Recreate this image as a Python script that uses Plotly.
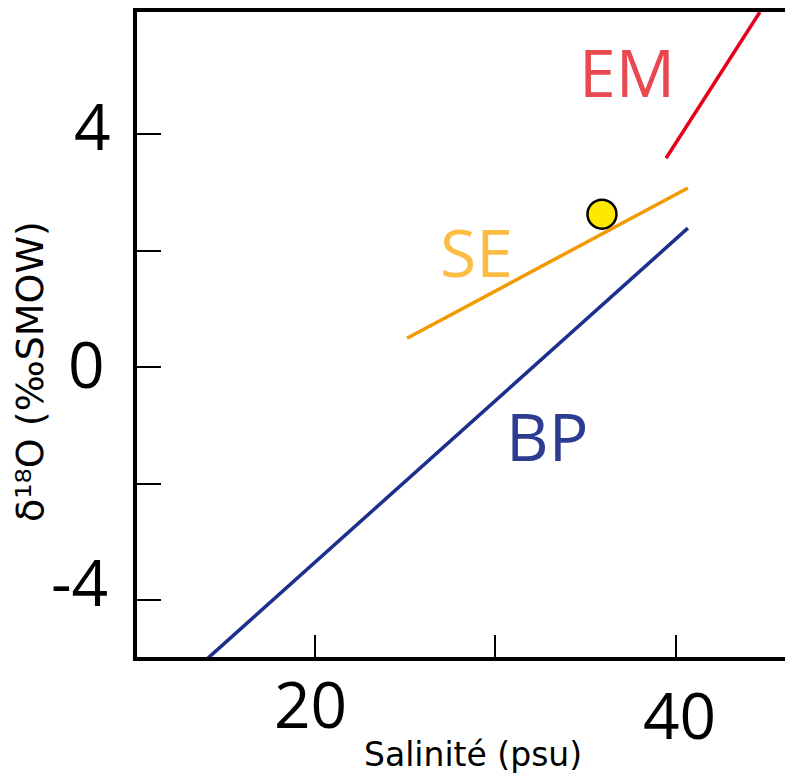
import plotly.graph_objects as go

# Data
bp_x = [14.07, 40.66]
bp_y = [-4.99, 2.39]
se_x = [25.1, 40.66]
se_y = [0.5, 3.08]
em_x = [39.45, 44.65]
em_y = [3.59, 6.1]
pt_x = [35.9]
pt_y = [2.63]

x_ticks = [20, 30, 40]
x_ticktext = ["20", "", "40"]
y_ticks = [-4, -2, 0, 2, 4]
y_ticktext = ["-4", "", "0", "", "4"]

labels = ["EM", "SE", "BP"]
label_x = [37.29, 28.97, 32.85]
label_y = [5.08, 2.0, -1.16]
label_colors = ["#e8484f", "#fdbd45", "#2c3d91"]

FONT = "Open Sans"
TITLE_FONT = "DejaVu Sans"

# label offsets (style only)
x_lab_shift = {20: (-4, -46), 40: (4, -57)}
y_lab_shift = {4: (-24, 9), 0: (-30, 4), -4: (-27, 19)}

fig = go.Figure()
fig.add_trace(go.Scatter(x=bp_x, y=bp_y, mode="lines", line=dict(color="#1c2f8c", width=3.5), hoverinfo="skip"))
fig.add_trace(go.Scatter(x=se_x, y=se_y, mode="lines", line=dict(color="#f39a00", width=3.5), hoverinfo="skip"))
fig.add_trace(go.Scatter(x=em_x, y=em_y, mode="lines", line=dict(color="#e6001e", width=3.5), hoverinfo="skip"))
fig.add_trace(go.Scatter(x=pt_x, y=pt_y, mode="markers",
                         marker=dict(color="#ffe800", size=29, line=dict(color="black", width=2.5)), hoverinfo="skip"))

for t, x, y, c in zip(labels, label_x, label_y, label_colors):
    fig.add_annotation(x=x, y=y, text=t, showarrow=False, font=dict(family=FONT, size=66, color=c))

for v, t in zip(x_ticks, x_ticktext):
    if t:
        dx, dy = x_lab_shift[v]
        fig.add_annotation(x=v, xref="x", y=0, yref="paper", text=t, showarrow=False,
                           xshift=dx, yshift=dy, yanchor="middle",
                           font=dict(family=FONT, size=64, color="black"))
for v, t in zip(y_ticks, y_ticktext):
    if t:
        dx, dy = y_lab_shift[v]
        fig.add_annotation(x=0, xref="paper", y=v, yref="y", text=t, showarrow=False,
                           xshift=dx, yshift=dy, xanchor="right", yanchor="middle",
                           font=dict(family=FONT, size=64, color="black"))

W, H = 777, 766
L, T, B = 129, 2, 117
pw = W - L
ph = H - T - B

fig.add_annotation(xref="paper", yref="paper", x=(473 - 137) / pw, y=0, yshift=-97,
                   text="Salinité (psu)", showarrow=False, xanchor="center", yanchor="middle",
                   font=dict(family=TITLE_FONT, size=33, color="black"))
fig.add_annotation(xref="paper", yref="paper", x=0, xshift=-107, y=(657 - 371) / ph,
                   text="δ¹⁸O (‰SMOW)", showarrow=False, textangle=-90,
                   xanchor="center", yanchor="middle",
                   font=dict(family=TITLE_FONT, size=38, color="black"))

fig.update_layout(
    width=W, height=H,
    margin=dict(l=L, r=0, t=T, b=B, pad=0),
    paper_bgcolor="white", plot_bgcolor="white",
    showlegend=False,
)
fig.update_xaxes(range=[10.14, 10.14 + pw / 18.05], showgrid=False, zeroline=False,
                 showline=True, linewidth=4, linecolor="black", mirror=True,
                 ticks="inside", ticklen=22, tickwidth=1.5, tickcolor="black",
                 tickvals=x_ticks, showticklabels=False)
fig.update_yaxes(range=[-4.97, 6.10], showgrid=False, zeroline=False,
                 showline=True, linewidth=4, linecolor="black", mirror=False,
                 ticks="inside", ticklen=24, tickwidth=1.5, tickcolor="black",
                 tickvals=y_ticks, showticklabels=False)

fig.write_html("out.html")
